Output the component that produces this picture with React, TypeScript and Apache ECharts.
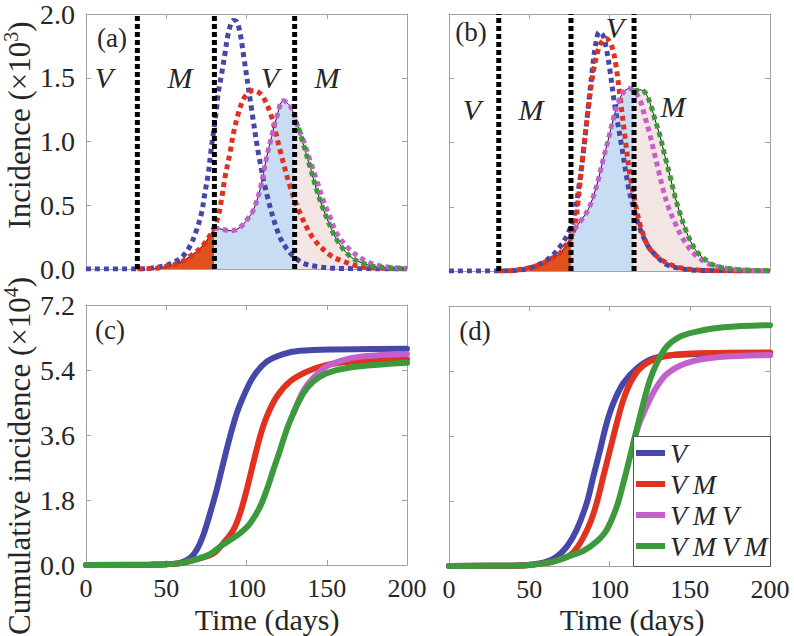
import React, { useEffect, useRef } from "react";
import * as echarts from "echarts";

// ---------- axes / ticks ----------
const X_MIN = 0;
const X_MAX = 200;
const X_STEP = 50;
const INC_MAX = 2.0;
const INC_STEP = 0.5;
const CUM_MAX = 7.2;
const CUM_STEP = 1.8;

// switching days (vertical dashed lines)
const switchA = [32, 80, 130];
const switchB = [31, 76, 115.3];

// ---------- panel (a): incidence (x10^3) ----------
const aV: number[][] = [
  [0, 0], [30, 0], [40, 0.005], [50, 0.03], [55, 0.055], [59.6, 0.09], [64.8, 0.18], [69, 0.31],
  [72, 0.44], [74, 0.59], [76.2, 0.75], [77.7, 0.91], [79.3, 1.06], [81, 1.22], [82.4, 1.38],
  [84.5, 1.53], [86.6, 1.69], [88.7, 1.85], [91.8, 1.95], [93.9, 1.94], [96, 1.85], [98, 1.69],
  [103.2, 1.25], [107.4, 0.91], [112.6, 0.59], [119.8, 0.28], [125, 0.16], [130.2, 0.09],
  [135.4, 0.045], [143.7, 0.02], [155, 0.005], [200, 0],
];
const aVM: number[][] = [
  [32, 0], [40, 0.003], [45, 0.008], [50, 0.02], [54, 0.03], [60, 0.06], [66, 0.11], [71, 0.16],
  [75, 0.22], [78, 0.28], [80, 0.33], [82.5, 0.42], [84.5, 0.55], [86.6, 0.72], [89.7, 0.91],
  [91.8, 1.06], [94.9, 1.22], [98, 1.33], [101, 1.38], [104.2, 1.4], [107, 1.39], [110.4, 1.35],
  [115.7, 1.19], [120.9, 0.93], [127.1, 0.65], [133.3, 0.44], [141.6, 0.24], [152, 0.11],
  [160.3, 0.06], [170.7, 0.02], [185, 0.005], [200, 0],
];
const aVMV: number[][] = [
  [80, 0.33], [81.4, 0.32], [85.5, 0.31], [89.7, 0.3], [93.9, 0.31], [98, 0.35], [101.1, 0.4],
  [104.2, 0.46], [108.4, 0.62], [112.6, 0.88], [115.7, 1.04], [118.8, 1.19], [122.9, 1.32],
  [127.1, 1.28], [130, 1.2], [131.3, 1.14], [135.4, 1.01], [139.6, 0.85], [143.7, 0.7],
  [147.8, 0.54], [152, 0.41], [156.2, 0.28], [164.5, 0.15], [174.9, 0.06], [185, 0.02], [200, 0.005],
];
const aVMVM: number[][] = [
  [130, 1.17], [132, 1.12], [135.4, 0.98], [139.6, 0.8], [143.7, 0.62], [147.8, 0.47], [152, 0.34],
  [156.2, 0.23], [164.5, 0.1], [174.9, 0.035], [185, 0.012], [200, 0.003],
];

// ---------- panel (b): incidence (x10^3) ----------
const bV: number[][] = [
  [0, 0], [30, 0], [45, 0.01], [52, 0.03], [59.8, 0.076], [65, 0.128], [70.2, 0.206], [74.3, 0.297],
  [77.4, 0.4], [80.5, 0.62], [83.5, 0.9], [86.8, 1.28], [89.5, 1.59], [91.5, 1.77], [93.6, 1.86],
  [96.1, 1.83], [98.2, 1.72], [100.3, 1.56], [103.4, 1.28], [107.6, 0.97], [111.7, 0.66],
  [114.8, 0.5], [119, 0.33], [124.2, 0.19], [129.4, 0.115], [135.6, 0.05], [144, 0.02], [155, 0.005], [200, 0],
];
const bVM: number[][] = [
  [31, 0], [40, 0.005], [50, 0.025], [56.7, 0.05], [62.9, 0.09], [69.2, 0.14], [73.3, 0.21], [76, 0.26],
  [78.5, 0.35], [80.5, 0.55], [83.3, 0.89], [86.2, 1.2], [89.5, 1.52], [92.5, 1.7], [95, 1.78],
  [97.8, 1.81], [101.4, 1.75], [104, 1.6], [106.5, 1.36], [109.6, 1.05], [112.8, 0.74], [117.3, 0.45],
  [120, 0.32], [124.2, 0.19], [129.4, 0.115], [135.6, 0.064], [144, 0.025], [155, 0.008], [170, 0.002], [200, 0],
];
const bVMV: number[][] = [
  [76, 0.26], [78.5, 0.33], [82.7, 0.4], [86.8, 0.48], [89.9, 0.58], [93, 0.71], [96.1, 0.87],
  [99.2, 1.02], [102.3, 1.18], [105.5, 1.31], [108.6, 1.39], [112.3, 1.42], [115.3, 1.4], [119, 1.33],
  [122.1, 1.2], [124.8, 1.08], [127.3, 0.95], [130.4, 0.79], [133.5, 0.63], [136.6, 0.5], [140.8, 0.375],
  [146, 0.245], [152.2, 0.14], [160.5, 0.064], [170.9, 0.025], [185, 0.006], [200, 0.001],
];
const bVMVM: number[][] = [
  [115.3, 1.4], [119, 1.41], [122.1, 1.39], [125.2, 1.31], [128.3, 1.18], [131.5, 1.05], [134.6, 0.89],
  [137.7, 0.74], [140.8, 0.58], [143.9, 0.45], [148.1, 0.3], [153.3, 0.17], [159.5, 0.09],
  [166.8, 0.037], [179.2, 0.012], [200, 0.002],
];

// ---------- panel (c): cumulative incidence (x10^4) ----------
const cV: number[][] = [
  [0, 0], [40, 0.01], [50, 0.02], [58.6, 0.06], [64.8, 0.19], [69, 0.42], [73.1, 0.83], [77.3, 1.43],
  [81.4, 2.08], [85.5, 2.82], [89.7, 3.55], [93.9, 4.2], [98, 4.66], [104.2, 5.21], [112.6, 5.63],
  [122.9, 5.84], [133.3, 5.93], [154, 5.97], [200, 5.99],
];
const cVM: number[][] = [
  [0, 0], [40, 0.005], [50, 0.02], [60, 0.06], [70, 0.17], [79.3, 0.32], [85.5, 0.6], [91.8, 0.97],
  [96, 1.43], [100.1, 2.08], [104.2, 2.82], [108.4, 3.55], [112.6, 4.11], [118.8, 4.66], [127.1, 5.08],
  [137.5, 5.35], [150, 5.54], [164.5, 5.63], [200, 5.7],
];
const cVMV: number[][] = [
  [129.2, 4.2], [135.4, 4.82], [141.6, 5.18], [150, 5.5], [164.5, 5.72], [180, 5.8], [200, 5.84],
];
const cVMVM: number[][] = [
  [0, 0], [40, 0.005], [50, 0.02], [60, 0.06], [71, 0.19], [77.3, 0.3], [83.5, 0.51], [89.7, 0.69],
  [96, 0.88], [102.2, 1.15], [108.4, 1.61], [112.6, 2.08], [116.7, 2.63], [120.9, 3.18], [125, 3.74],
  [129.2, 4.2], [135.4, 4.75], [141.6, 5.08], [150, 5.31], [164.5, 5.47], [200, 5.6],
];

// ---------- panel (d): cumulative incidence (x10^4) ----------
const dV: number[][] = [
  [0, 0], [40, 0.01], [50, 0.03], [60.9, 0.12], [67.1, 0.26], [73.3, 0.53], [79.5, 1.0], [85.8, 1.74],
  [89.9, 2.47], [94.1, 3.21], [98.2, 3.95], [102.4, 4.51], [108.6, 5.06], [116.9, 5.47], [127.3, 5.75],
  [139.7, 5.84], [170.9, 5.89], [200, 5.9],
];
const dVM: number[][] = [
  [0, 0], [40, 0.01], [50, 0.03], [60, 0.08], [67.1, 0.15], [75.4, 0.3], [81.6, 0.63], [87.8, 1.18],
  [92, 1.74], [96.1, 2.47], [100.3, 3.21], [104.5, 3.95], [108.6, 4.6], [112.8, 5.06], [119, 5.47],
  [129.4, 5.75], [146, 5.87], [200, 5.91],
];
const dVMV: number[][] = [
  [115, 3.43], [119, 4.0], [125, 4.6], [130, 5.0], [136, 5.33], [148, 5.62], [167, 5.78], [200, 5.84],
];
const dVMVM: number[][] = [
  [0, 0], [40, 0.01], [50, 0.03], [60, 0.08], [67.1, 0.15], [75.4, 0.28], [83.7, 0.42], [92, 0.68],
  [98.2, 1.0], [104.5, 1.64], [108.6, 2.29], [112.8, 3.03], [116.9, 3.77], [121.1, 4.51], [125.2, 5.15],
  [129.4, 5.61], [135.6, 6.07], [143.9, 6.35], [154.3, 6.49], [170.9, 6.61], [200, 6.67],
];

const legendNames = ["V", "VM", "VMV", "VMVM"];

// ---------- styles ----------
const FONT = "Liberation Serif, DejaVu Serif, serif";
const AXIS_GRAY = "#a3a3a3";
const TEXT = "#262626";
const C_BLUE = "#4547a9";
const C_RED = "#e1311f";
const C_MAG = "#c460ca";
const C_GREEN = "#3c9a3c";
const F_ORANGE = "#e0521c";
const F_BLUE = "#c8ddf4";
const F_PINK = "#f4e5e5";

const GRIDS = [
  { left: 86, top: 14, width: 321, height: 255 },
  { left: 449, top: 14, width: 321, height: 257 },
  { left: 86, top: 305, width: 321, height: 260 },
  { left: 449, top: 306, width: 321, height: 260 },
];

function between(pts: number[][], a: number, b: number) {
  return pts.filter((p) => p[0] >= a && p[0] <= b);
}

function dotted(name: string, data: number[][], color: string, g: number, z: number) {
  return {
    type: "line", name, data, xAxisIndex: 2 * g, yAxisIndex: 2 * g, smooth: 0.35,
    symbol: "none", color, z,
    lineStyle: { color, width: 5, type: [5, 4], cap: "butt" },
  };
}
function solid(name: string, data: number[][], color: string, g: number, z: number) {
  return {
    type: "line", name, data, xAxisIndex: 2 * g, yAxisIndex: 2 * g, smooth: 0.35,
    symbol: "none", color, itemStyle: { color }, z,
    lineStyle: { color, width: 6, cap: "round" },
  };
}
function fill(data: number[][], color: string, g: number) {
  return {
    type: "line", name: "fill", data, xAxisIndex: 2 * g, yAxisIndex: 2 * g, smooth: 0.35,
    symbol: "none", z: 1, silent: true,
    lineStyle: { color: "#1a1a1a", width: 1 },
    areaStyle: { color, opacity: 1 },
  };
}
function vline(x: number, ymax: number, g: number) {
  return {
    type: "line", name: "switch", data: [[x, 0], [x, ymax]], xAxisIndex: 2 * g, yAxisIndex: 2 * g,
    symbol: "none", z: 5, silent: true,
    lineStyle: { color: "#000", width: 5, type: [5, 3] },
  };
}

function txt(text: string, x: number, y: number, size: number, italic = false, rotation = 0, rich?: any) {
  return {
    type: "text", x, y, rotation, z: 12, silent: true,
    style: {
      text, fill: TEXT, fontSize: size, fontFamily: FONT, fontStyle: italic ? "italic" : "normal",
      textAlign: "center", textVerticalAlign: "middle", align: "center", verticalAlign: "middle",
      rich,
    },
  };
}

export default function App() {
  const ref = useRef<HTMLDivElement>(null);
  useEffect(() => {
    if (!ref.current) return;
    const chart = echarts.init(ref.current, undefined, { renderer: "svg" });

    const xAxis: any[] = [];
    const yAxis: any[] = [];
    GRIDS.forEach((_, i) => {
      const common = {
        type: "value", gridIndex: i, min: X_MIN, max: X_MAX, interval: X_STEP,
        axisLine: { show: true, onZero: false, lineStyle: { color: AXIS_GRAY, width: 1 } },
        axisTick: { show: true, inside: true, length: 5, lineStyle: { color: AXIS_GRAY } },
        splitLine: { show: false },
      };
      xAxis.push({
        ...common, position: "bottom",
        axisLabel: { show: i >= 2, margin: 10, fontSize: 26, fontFamily: FONT, color: TEXT },
      });
      xAxis.push({ ...common, position: "top", axisLabel: { show: false } });
      const ymax = i < 2 ? INC_MAX : CUM_MAX;
      const ystep = i < 2 ? INC_STEP : CUM_STEP;
      const ycommon = {
        type: "value", gridIndex: i, min: 0, max: ymax, interval: ystep,
        axisLine: { show: true, onZero: false, lineStyle: { color: AXIS_GRAY, width: 1 } },
        axisTick: { show: true, inside: true, length: 5, lineStyle: { color: AXIS_GRAY } },
        splitLine: { show: false },
      };
      yAxis.push({
        ...ycommon, position: "left",
        axisLabel: {
          show: i % 2 === 0, margin: 11, fontSize: 28, fontFamily: FONT, color: TEXT,
          formatter: (v: number) => v.toFixed(1),
        },
      });
      yAxis.push({ ...ycommon, position: "right", axisLabel: { show: false } });
    });

    const series: any[] = [
      // (a)
      fill(between(aVM, 40, switchA[1]), F_ORANGE, 0),
      fill(between(aVMV, switchA[1], switchA[2]), F_BLUE, 0),
      fill(between(aVMVM, switchA[2], 200), F_PINK, 0),
      dotted("a V", aV, C_BLUE, 0, 2),
      dotted("a VM", aVM, C_RED, 0, 3),
      dotted("a VMV", aVMV, C_MAG, 0, 3),
      dotted("a VMVM", aVMVM, C_GREEN, 0, 4),
      ...switchA.map((x) => vline(x, INC_MAX, 0)),
      // (b)
      fill(between(bVM, 45, switchB[1]), F_ORANGE, 1),
      fill(between(bVMV, switchB[1], switchB[2]), F_BLUE, 1),
      fill(between(bVMVM, switchB[2], 200), F_PINK, 1),
      dotted("b V", bV, C_BLUE, 1, 2),
      dotted("b VM", bVM, C_RED, 1, 3),
      dotted("b VMV", bVMV, C_MAG, 1, 3),
      dotted("b VMVM", bVMVM, C_GREEN, 1, 4),
      ...switchB.map((x) => vline(x, INC_MAX, 1)),
      // (c)
      solid("c V", cV, C_BLUE, 2, 2),
      solid("c VM", cVM, C_RED, 2, 3),
      solid("c VMV", cVMV, C_MAG, 2, 4),
      solid("c VMVM", cVMVM, C_GREEN, 2, 5),
      // (d)
      solid(legendNames[0], dV, C_BLUE, 3, 2),
      solid(legendNames[1], dVM, C_RED, 3, 3),
      solid(legendNames[2], dVMV, C_MAG, 3, 4),
      solid(legendNames[3], dVMVM, C_GREEN, 3, 5),
    ];

    const supRich = {
      a: { fontSize: 31, fontFamily: FONT, fill: TEXT, color: TEXT, lineHeight: 36 },
      s: { fontSize: 20, fontFamily: FONT, fill: TEXT, color: TEXT, lineHeight: 16, verticalAlign: "top" },
    };

    const graphic: any[] = [
      {
        type: "rect", z: 9, silent: true,
        shape: { x: 633.5, y: 436.5, width: 137, height: 130 },
        style: { fill: "#fff", stroke: "#555", lineWidth: 1 },
      },
      txt("(a)", 112, 38, 27),
      txt("(b)", 471, 32, 27),
      txt("(c)", 110, 330, 27),
      txt("(d)", 475, 331, 27),
      txt("V", 104, 77, 30, true),
      txt("M", 180, 77, 30, true),
      txt("V", 270, 77, 30, true),
      txt("M", 327, 77, 30, true),
      txt("V", 472, 109, 30, true),
      txt("M", 531, 109, 30, true),
      txt("V", 615, 27, 30, true),
      txt("M", 673, 106, 30, true),
      txt("{a|Incidence (×10}{s|3}{a|)}", 19, 125, 31, false, Math.PI / 2, supRich),
      txt("{a|Cumulative incidence (×10}{s|4}{a|)}", 19, 456, 31, false, Math.PI / 2, supRich),
      txt("Time (days)", 267, 619, 30),
      txt("Time (days)", 632, 619, 30),
    ];

    chart.setOption({
      animation: false,
      backgroundColor: "#fff",
      grid: GRIDS.map((g) => ({ ...g, containLabel: false })),
      xAxis,
      yAxis,
      series,
      graphic,
      legend: {
        data: legendNames,
        orient: "vertical",
        left: 636,
        top: 439,
        padding: 0,
        itemGap: 3,
        itemWidth: 29,
        itemHeight: 6,
        icon: "rect",
        z: 11,
        selectedMode: false,
        itemStyle: { borderWidth: 0 },
        formatter: (n: string) => n.split("").join("\u2009"),
        textStyle: { fontFamily: FONT, fontStyle: "italic", fontSize: 28, color: TEXT },
      },
    });
    return () => chart.dispose();
  }, []);
  return (
    <div
      ref={ref}
      style={{ position: "fixed", left: 0, top: 0, width: 794, height: 636, background: "#fff" }}
    />
  );
}
